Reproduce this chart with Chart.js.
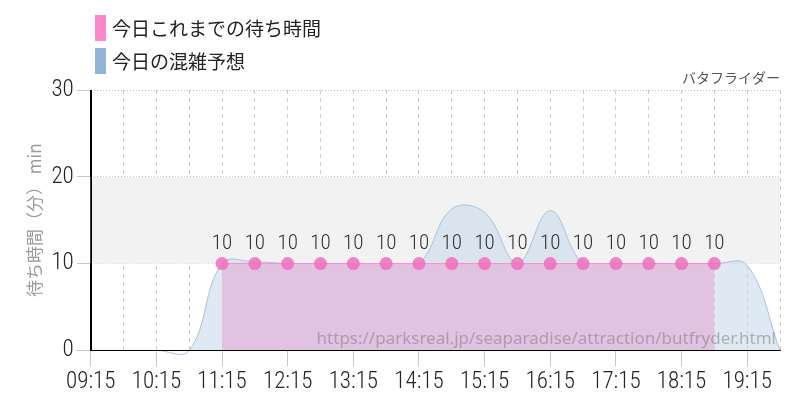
<!DOCTYPE html>
<html lang="ja">
  <head>
    <meta charset="UTF-8" />
    <title>バタフライダー 待ち時間</title>
    <script src="https://cdn.jsdelivr.net/npm/chart.js"></script>
    <style>
      html, body { margin: 0; padding: 0; background: #fff; }
      .chart-container { width: 800px; height: 400px; }
    </style>
  </head>
  <body>
    <div class="chart-container">
      <canvas id="waitChart"></canvas>
    </div>

    <script>
      // data
      const times = ["09:15", "09:45", "10:15", "10:45", "11:15", "11:45", "12:15", "12:45",
        "13:15", "13:45", "14:15", "14:45", "15:15", "15:45", "16:15", "16:45",
        "17:15", "17:45", "18:15", "18:45", "19:15", "19:45"];
      const actualWait = [null, null, null, null, 10, 10, 10, 10,
        10, 10, 10, 10, 10, 10, 10, 10,
        10, 10, 10, 10, null, null];
      const forecastWait = [0, 0, 0, 0, 10, 10.2, 10, 10,
        10, 9.7, 10, 16.3, 15.9, 10.1, 16.1, 10,
        9.7, 10, 10, 10, 9.8, 0];
      const yTicks = [0, 10, 20, 30];

      const tickFont = "'Roboto Condensed', Roboto, sans-serif";
      const jpFont = "'Noto Sans CJK JP', 'Noto Sans', sans-serif";

      // grey band between 10 and 20 minutes
      const bandPlugin = {
        id: "band",
        beforeDatasetsDraw(chart) {
          const { ctx, chartArea, scales } = chart;
          const top = scales.y.getPixelForValue(20);
          const bottom = scales.y.getPixelForValue(10);
          ctx.save();
          ctx.fillStyle = "#f2f2f2";
          ctx.fillRect(chartArea.left, top, chartArea.right - chartArea.left, bottom - top);
          ctx.restore();
        },
      };

      // value labels, legend, title, source text and solid axis lines
      const textPlugin = {
        id: "texts",
        afterDatasetsDraw(chart) {
          const ctx = chart.ctx;
          const meta = chart.getDatasetMeta(0);
          ctx.save();
          ctx.font = "300 21px " + tickFont;
          ctx.fillStyle = "#333";
          ctx.textAlign = "center";
          ctx.textBaseline = "bottom";
          meta.data.forEach((pt, i) => {
            const v = actualWait[i];
            if (v == null) return;
            ctx.fillText(String(v), pt.x, pt.y - 9);
          });

          // source url
          ctx.font = "17px 'Noto Sans', sans-serif";
          ctx.fillStyle = "rgba(120,120,120,0.5)";
          ctx.textAlign = "right";
          ctx.textBaseline = "alphabetic";
          ctx.fillText("https://parksreal.jp/seaparadise/attraction/butfryder.html",
            chart.chartArea.right - 4, chart.chartArea.bottom - 6);
          ctx.restore();
        },
        afterDraw(chart) {
          const ctx = chart.ctx;
          const a = chart.chartArea;
          ctx.save();
          ctx.strokeStyle = "#000";
          ctx.lineWidth = 1;
          ctx.setLineDash([]);
          ctx.beginPath();
          ctx.moveTo(Math.round(a.left) + 0.5, a.top);
          ctx.lineTo(Math.round(a.left) + 0.5, a.bottom);
          ctx.moveTo(a.left, Math.round(a.bottom) + 0.5);
          ctx.lineTo(a.right, Math.round(a.bottom) + 0.5);
          ctx.stroke();

          chart.data.datasets.forEach((ds, i) => {
            const y = 15 + i * 33;
            ctx.fillStyle = ds.legendColor;
            ctx.fillRect(95, y, 11, 26);
            ctx.font = "19px " + jpFont;
            ctx.fillStyle = "#222";
            ctx.textAlign = "left";
            ctx.textBaseline = "middle";
            ctx.fillText(ds.label, 112, y + 14);
          });
          ctx.font = "14px " + jpFont;
          ctx.fillStyle = "#555";
          ctx.textAlign = "right";
          ctx.fillText("バタフライダー", 780, 78);
          ctx.restore();
        },
      };

      const ctx = document.getElementById("waitChart").getContext("2d");
      new Chart(ctx, {
        type: "line",
        data: {
          labels: times,
          datasets: [
            {
              label: "今日これまでの待ち時間",
              data: actualWait,
              legendColor: "#ff88cc",
              borderColor: "#ff88cc",
              borderWidth: 1,
              backgroundColor: "rgba(225,192,223,0.95)",
              fill: "origin",
              tension: 0,
              pointRadius: 6.5,
              pointBorderWidth: 0,
              pointBackgroundColor: "rgba(240,110,190,0.85)",
            },
            {
              label: "今日の混雑予想",
              data: forecastWait,
              legendColor: "#90b4d2",
              borderColor: "#a6c3de",
              borderWidth: 1,
              backgroundColor: "rgba(202,218,235,0.6)",
              fill: "origin",
              tension: 0.4,
              capBezierPoints: false,
              clip: 6,
              pointRadius: 0,
            },
          ],
        },
        options: {
          responsive: true,
          maintainAspectRatio: false,
          animation: false,
          layout: { padding: { top: 90, right: 20, left: 24, bottom: 2 } },
          plugins: {
            legend: { display: false },
            tooltip: { enabled: false },
          },
          scales: {
            x: {
              border: { color: "#000", width: 1, dash: [4, 4] },
              grid: {
                color: "#cccccc",
                tickBorderDash: [],
                tickLength: 16,
                tickColor: (c) => (c.index % 2 === 0 ? "#c8c8c8" : "rgba(0,0,0,0)"),
              },
              ticks: {
                autoSkip: false,
                maxRotation: 0,
                padding: 2,
                color: "#222",
                font: { family: tickFont, size: 23, weight: "300" },
                callback: (v, i) => (i % 2 === 0 ? times[i] : ""),
              },
            },
            y: {
              min: 0,
              max: 30,
              border: { color: "#000", width: 1, dash: [1, 2] },
              grid: {
                color: "#bbbbbb",
                tickBorderDash: [],
                tickLength: 14,
                tickColor: "#c8c8c8",
              },
              afterBuildTicks: (axis) => {
                axis.ticks = yTicks.map((v) => ({ value: v }));
              },
              ticks: {
                padding: 3,
                color: "#222",
                font: { family: tickFont, size: 23, weight: "300" },
              },
              title: {
                display: true,
                text: "待ち時間（分） min",
                color: "#999",
                font: { family: jpFont, size: 17 },
                padding: { top: 0, bottom: 4 },
              },
            },
          },
        },
        plugins: [bandPlugin, textPlugin],
      });
    </script>
  </body>
</html>
